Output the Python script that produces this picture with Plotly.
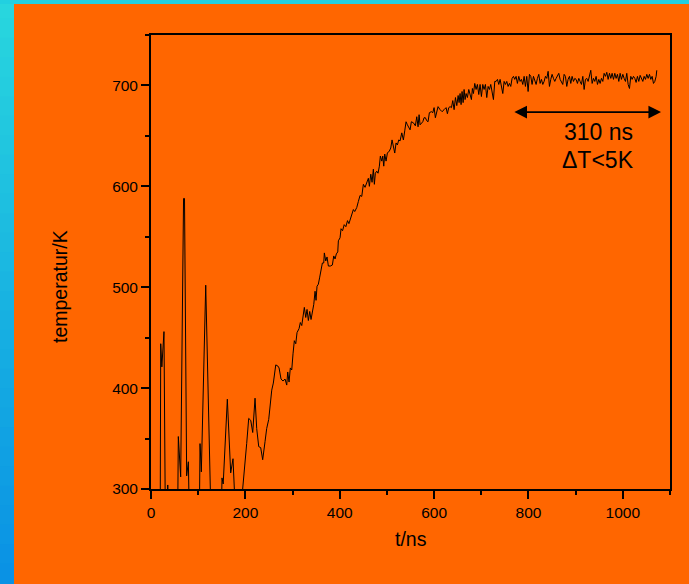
import plotly.graph_objects as go

# ---- data ----
t_ns = [0, 19.5, 20.6, 23.0, 27.5, 30.4, 34.0, 35.5, 37.0, 56.5, 57.9, 60.5, 62.9, 69.0, 71.0, 75.6, 79.2, 81.3,
        102.5, 103.9, 106.7, 116.0, 123.6, 127.2, 149.0, 150.5, 153.0, 161.8, 168.9, 173.8, 179.5, 193.0,
        194.3, 199.3, 202.8, 207.1, 211.4, 215.6, 220.5, 224.0, 228.3, 232.5, 236.7, 241.7, 245.2, 249.5,
        253.8, 255.9, 259.3, 264.4, 268.6, 271.4, 275.6, 279.8, 284.1, 287.7, 289.8, 292.6, 295.3, 298.3,
        301.0, 303.8, 306.8, 309.5, 313.8, 316.5, 319.5, 322.2, 325.0, 328.0, 330.7, 333.5, 336.4, 339.2,
        342.0, 345.0, 347.7, 349.8, 351.9, 354.7, 357.6, 360.4, 363.2, 366.1, 367.4, 370.4, 373.1, 375.9,
        380.1, 384.4, 387.3, 390.1, 392.8, 395.8, 397.1, 400.7, 402.8, 406.0, 409.5, 413.0, 416.5, 419.5,
        421.9, 425.5, 428.9, 431.8, 436.1, 439.5, 443.1, 446.7, 450.1, 453.7, 457.3, 460.7, 462.8, 465.8,
        468.5, 471.3, 473.4, 475.5, 478.5, 481.2, 484.0, 486.1, 489.1, 491.2, 493.3, 495.4, 498.2, 501.0,
        505.2, 508.2, 510.9, 513.7, 516.6, 519.4, 522.2, 525.1, 527.9, 531.5, 534.9, 537.8, 540.6, 543.4,
        546.3, 549.1, 551.8, 556.1, 560.3, 563.3, 566.0, 568.2, 570.3, 573.0, 576.0, 578.8, 581.5, 584.5,
        587.2, 590.0, 594.2, 597.2, 600.0, 602.7, 605.7, 608.4, 612.7, 616.9, 621.2, 625.4, 628.2, 631.1,
        633.9, 636.8, 639.6, 642.4, 645.3, 648.1, 651.0, 653.0,
        655.1, 657.2, 659.3, 661.5, 663.6, 665.7, 667.8, 670.6, 673.5, 676.3, 679.1, 681.2, 683.4, 686.2,
        689.0, 691.8, 694.7, 697.5, 700.3, 703.2, 706.0, 708.8, 711.6, 714.5, 717.3, 720.1, 723.0, 725.8,
        728.6, 731.4, 734.3, 737.1, 739.9, 742.7, 745.6, 748.4, 751.2, 754.0, 756.9, 759.7, 762.5, 765.3,
        768.2, 771.0, 773.8, 776.6, 779.5, 782.3, 785.1, 788.0, 790.8, 793.6, 796.4, 799.3, 802.1, 804.9,
        807.7, 810.6, 813.4, 816.2, 819.0, 821.9, 824.7, 827.5, 830.4, 833.2, 836.0, 838.8, 841.7, 844.5,
        847.3, 850.1, 853.0, 855.8, 858.6, 861.4, 864.3, 867.1, 869.9, 872.7, 875.6, 878.4, 881.2, 884.0,
        886.9, 889.7, 892.5, 895.4, 898.2, 901.0, 903.8, 906.7, 909.5, 912.3, 915.2, 918.0, 920.8, 923.6,
        926.5, 929.3, 932.1, 935.0, 937.8, 940.6, 943.4, 946.3, 949.1, 951.9, 954.7, 957.6, 960.4, 963.2,
        966.0, 968.9, 971.7, 974.5, 977.3, 980.2, 983.0, 985.8, 988.6, 991.5, 994.3, 997.1, 1000.0, 1002.8,
        1005.6, 1008.4, 1011.3, 1014.1, 1016.9, 1019.7, 1022.6, 1025.4, 1028.2, 1031.0, 1033.9, 1036.7,
        1039.5, 1042.4, 1045.2, 1048.0, 1050.8, 1053.7, 1056.5, 1059.3, 1062.1, 1065.0, 1067.8, 1070.6, 1072.0]

temp_K = [270, 270, 444, 421, 456, 270, 270, 304, 270, 270, 352, 330, 312, 588, 588, 313, 327, 270,
          270, 345, 317, 502, 332, 270, 270, 311, 305, 389, 316, 330, 270, 270,
          300, 324, 345, 370, 368, 356, 390, 360, 342, 341, 329, 347, 360, 369,
          390, 398, 405, 423, 422, 420, 409, 407, 409, 403, 416, 406, 420, 418,
          434, 447, 444, 455, 459, 465, 462, 472, 480, 470, 478, 467, 476, 468,
          474, 483, 496, 487, 501, 503, 510, 518, 524, 524, 534, 526, 530, 521,
          521, 522, 531, 528, 533, 535, 546, 549, 558, 556, 562, 560, 566, 563,
          567, 571, 577, 575, 579, 585, 591, 590, 602, 599, 605, 608, 600, 612,
          604, 617, 602, 613, 615, 613, 620, 630, 625, 630, 620, 632, 625, 633,
          635, 638, 646, 640, 633, 643, 641, 646, 645, 653, 646, 655, 664, 661,
          659, 656, 664, 663, 660, 669, 659, 671, 661, 663, 664, 668, 668, 665,
          664, 673, 674, 673, 678, 668, 676, 679, 676, 674, 676, 678, 672, 678,
          679, 678, 685, 676, 688, 680, 690, 683,
          692, 681, 694, 683, 696, 686, 692, 688, 696, 691, 686, 697, 692, 702,
          696, 701, 691, 701, 689, 701, 696, 701, 688, 699, 696, 701, 692, 686,
          704, 704, 706, 701, 706, 697, 692, 704, 701, 704, 699, 702, 699, 707,
          709, 706, 709, 702, 709, 704, 706, 701, 709, 699, 709, 694, 711, 709,
          701, 709, 704, 701, 707, 711, 702, 706, 701, 704, 709, 707, 714, 699,
          706, 711, 707, 704, 707, 709, 712, 706, 704, 701, 711, 709, 699, 706,
          709, 702, 709, 704, 707, 706, 702, 707, 704, 701, 709, 696, 706, 707,
          704, 711, 715, 702, 707, 704, 709, 701, 706, 702, 707, 704, 712, 709,
          713, 706, 712, 707, 712, 706, 712, 707, 711, 704, 712, 706, 711, 707,
          704, 712, 701, 697, 709, 706, 709, 707, 703, 709, 704, 710,
          707, 704, 709, 706, 711, 707, 711, 706, 709, 702, 704, 709, 715]

x_ticks = [0, 200, 400, 600, 800, 1000]
y_ticks = [300, 400, 500, 600, 700]
x_range = [0, 1100]
y_range = [300, 750]
arrow_span = [767, 1081]
arrow_level = 673.6
note_lines = ["310 ns", "\u0394T<5K"]
note_x = 948
note_y = [653.6, 625.9]

FONT = "Liberation Sans, Arial, sans-serif"
ORANGE = "#FF6600"

fig = go.Figure()
fig.add_trace(go.Scatter(x=t_ns, y=temp_K, mode="lines",
                         line=dict(color="black", width=1), showlegend=False,
                         hoverinfo="skip"))

# background strips (cyan/blue gradient on the left, cyan strip on top)
shapes = []
n_bands = 30
top_px, bottom_px = 489, -95
c_top = (40, 214, 222)
c_bot = (10, 146, 228)
for i in range(n_bands):
    f = i / (n_bands - 1)
    col = tuple(int(round(c_top[k] + (c_bot[k] - c_top[k]) * f)) for k in range(3))
    y1 = top_px - (top_px - bottom_px) * i / n_bands
    y0 = top_px - (top_px - bottom_px) * (i + 1) / n_bands
    shapes.append(dict(type="rect", xref="paper", yref="paper",
                       xsizemode="pixel", ysizemode="pixel", xanchor=0, yanchor=0,
                       x0=-152, x1=-137, y0=y0 - 1, y1=y1 + 1,
                       line=dict(width=0), fillcolor="rgb(%d,%d,%d)" % col, layer="above"))
shapes.append(dict(type="rect", xref="paper", yref="paper",
                   xsizemode="pixel", ysizemode="pixel", xanchor=0, yanchor=0,
                   x0=-152, x1=540, y0=485, y1=490,
                   line=dict(width=0), fillcolor="rgb(34,208,224)", layer="above"))

annotations = [
    dict(x=arrow_span[1], y=arrow_level, ax=arrow_span[0], ay=arrow_level,
         xref="x", yref="y", axref="x", ayref="y", text="", showarrow=True,
         arrowhead=2, arrowside="end+start", arrowwidth=1.8, arrowsize=1.4,
         arrowcolor="black", standoff=0, startstandoff=0),
    dict(x=note_x, y=note_y[0], xref="x", yref="y", text=note_lines[0], showarrow=False,
         font=dict(family=FONT, size=23, color="black"), xanchor="center", yanchor="middle"),
    dict(x=note_x, y=note_y[1], xref="x", yref="y", text=note_lines[1], showarrow=False,
         font=dict(family=FONT, size=23, color="black"), xanchor="center", yanchor="middle"),
    dict(x=-0.1753, y=0.445, xref="paper", yref="paper", text="temperatur/K", showarrow=False,
         textangle=-90, font=dict(family=FONT, size=19.5, color="black"),
         xanchor="center", yanchor="middle"),
    dict(x=0.5, y=-0.110, xref="paper", yref="paper", text="t/ns", showarrow=False,
         font=dict(family=FONT, size=19.5, color="black"), xanchor="center", yanchor="middle"),
]

axis_common = dict(showgrid=False, zeroline=False, showline=True, linecolor="black",
                   linewidth=1.8, mirror=True, ticks="outside", ticklen=8, tickwidth=1.5,
                   tickcolor="black", tickfont=dict(family=FONT, size=15.5, color="black"))

fig.update_layout(
    width=689, height=584,
    margin=dict(l=151, r=19, t=35, b=95),
    paper_bgcolor=ORANGE, plot_bgcolor=ORANGE,
    shapes=shapes, annotations=annotations,
    xaxis=dict(range=x_range, tickvals=x_ticks, **axis_common,
               minor=dict(dtick=100, tick0=0, ticks="outside", ticklen=4, tickwidth=1.5,
                          tickcolor="black", showgrid=False)),
    yaxis=dict(range=y_range, tickvals=y_ticks, **axis_common,
               minor=dict(dtick=50, tick0=300, ticks="outside", ticklen=4, tickwidth=1.5,
                          tickcolor="black", showgrid=False)),
)

fig.write_html("out.html")
